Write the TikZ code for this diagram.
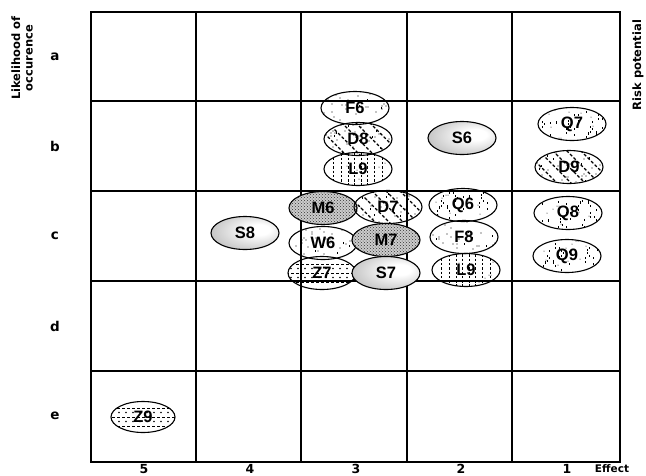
\documentclass[tikz,border=0pt]{standalone}
\usepackage{fontspec}
\setmainfont{Liberation Sans}
\newfontfamily\dvfont{DejaVu Sans}
\usetikzlibrary{shapes.geometric,patterns}

\pgfdeclareradialshading{sball}{\pgfpoint{12bp}{6bp}}{color(0bp)=(white); color(8bp)=(white); color(38bp)=(gray!60); color(56bp)=(gray!40!black)}

% scattered short vertical ticks inside a node (path picture)
\newcommand\rticks[3]{% #1 offset, #2 count, #3 tick length
  \foreach \k in {1,...,#2}{%
    \pgfmathsetmacro\rx{mod(\k*\k*13+\k*29+#1*7,62)-31}%
    \pgfmathsetmacro\ry{mod(\k*\k*5+\k*11+#1*3,29)-14}%
    \fill ([xshift=\rx pt, yshift=\ry pt]path picture bounding box.center) rectangle ++(0.9,#3);
  }}
\newcommand\rdots[3]{% #1 offset, #2 count, #3 radius
  \foreach \k in {1,...,#2}{%
    \pgfmathsetmacro\rx{mod(\k*\k*11+\k*19+#1*5,64)-32}%
    \pgfmathsetmacro\ry{mod(\k*\k*7+\k*3+#1*2,31)-15}%
    \fill ([xshift=\rx pt, yshift=\ry pt]path picture bounding box.center) circle (#3);
  }}

\tikzset{
  risk/.style={ellipse, draw, line width=1.1pt, minimum width=68pt, minimum height=33pt,
    inner sep=0pt, font=\bfseries\fontsize{16.5}{16.5}\selectfont},
  sfill/.style={risk, shading=sball},
  mfill/.style={risk, fill=gray!40, path picture={
    \fill[pattern=crosshatch dots, pattern color=black!80]
      (path picture bounding box.south west) rectangle (path picture bounding box.north east);}},
  qfill/.style={risk, path picture={\rticks{#1}{34}{2.4}\rdots{#1}{12}{0.5pt}}},
  ffill/.style={risk, path picture={\rdots{#1}{26}{0.55pt}\rticks{#1}{6}{1.8}}},
  lfill/.style={risk, path picture={
    \foreach \d in {-25,-17,-10,-4,3,9,16,24}
      \draw[line width=0.7pt, dash pattern=on 2.5pt off 1.8pt]
        ([xshift=\d pt, yshift=20pt]path picture bounding box.center) -- ++(0,40);
    \rdots{#1}{8}{0.5pt}}},
  dfill/.style={risk, path picture={
    \foreach \d in {-42,-28,...,42}
      \draw[line width=1.2pt, dash pattern=on 3pt off 2pt]
        ([xshift=\d pt-20pt, yshift=20pt]path picture bounding box.center) -- ++(40,40);
    \rdots{#1}{22}{0.6pt}\rticks{#1}{8}{2}}},
  zfill/.style={risk, path picture={
    \foreach \d in {-9,0,9}
      \draw[line width=0.8pt, dash pattern=on 3pt off 2pt]
        ([xshift=-36pt, yshift=\d pt]path picture bounding box.center) -- ++(72,0);
    \foreach \d in {-4.5,4.5}
      \foreach \e in {-31,-24,...,31}
        \fill ([xshift=\e pt, yshift=\d pt]path picture bounding box.center) circle (0.9pt);}},
  rowlbl/.style={font=\dvfont\bfseries\fontsize{13.5}{14}\selectfont},
  collbl/.style={font=\dvfont\bfseries\fontsize{12.5}{12.5}\selectfont, anchor=base, inner sep=0pt},
  axtitle/.style={font=\dvfont\bfseries\fontsize{11.5}{12.5}\selectfont, align=center},
  gridline/.style={line width=2.4pt},
  border/.style={line width=2.8pt}
}

\begin{document}
\begin{tikzpicture}[x=1pt,y=-1pt]
\useasboundingbox (0,0) rectangle (646,475);

% grid
\foreach \x in {196,301,407,512} \draw[gridline] (\x,12) -- (\x,462);
\foreach \y in {101,191,281,371} \draw[gridline] (91,\y) -- (620,\y);
\draw[border] (91,12) rectangle (620,462);

% axis titles
\node[axtitle, rotate=90] (ylab) at (22,58) {Likelihood of\\occurence};
\node[axtitle, rotate=90] (rlab) at (638,65) {Risk potential};
\node[axtitle, anchor=base, inner sep=0pt, font=\dvfont\bfseries\fontsize{10.5}{11}\selectfont] (xlab) at (612,472) {Effect};

% row labels
\node[rowlbl] (ra) at (55,57) {a};
\node[rowlbl] (rb) at (55,146) {b};
\node[rowlbl] (rc) at (55,236) {c};
\node[rowlbl] (rd) at (55,326) {d};
\node[rowlbl] (re) at (55,416) {e};

% column labels
\node[collbl] (c5) at (144,473) {5};
\node[collbl] (c4) at (250,473) {4};
\node[collbl] (c3) at (356,473) {3};
\node[collbl] (c2) at (461,473) {2};
\node[collbl] (c1) at (567,473) {1};

% risks, column 3 row b
\node[ffill=3] (F6) at (355,108) {F6};
\node[dfill=5] (D8) at (358,139) {D8};
\node[lfill=7] (L9a) at (358,169) {L9};
% column 2 / 1 row b
\node[sfill] (S6) at (462,138) {S6};
\node[qfill=11] (Q7) at (572,124) {Q7};
\node[dfill=13] (D9) at (569,167) {D9};
% row c
\node[mfill] (M6) at (323,208) {M6};
\node[dfill=17] (D7) at (388,207) {D7};
\node[sfill] (S8) at (245,233) {S8};
\node[ffill=19] (W6) at (323,243) {W6};
\node[mfill] (M7) at (386,240) {M7};
\node[zfill] (Z7) at (322,273) {Z7};
\node[sfill] (S7) at (386,273) {S7};
\node[qfill=23] (Q6) at (463,205) {Q6};
\node[ffill=29] (F8) at (464,237) {F8};
\node[lfill=31] (L9b) at (466,270) {L9};
\node[qfill=37] (Q8) at (568,213) {Q8};
\node[qfill=41] (Q9) at (567,256) {Q9};
% row e
\node[zfill, minimum width=64pt, minimum height=31pt] (Z9) at (143,417) {Z9};
\end{tikzpicture}
\end{document}
